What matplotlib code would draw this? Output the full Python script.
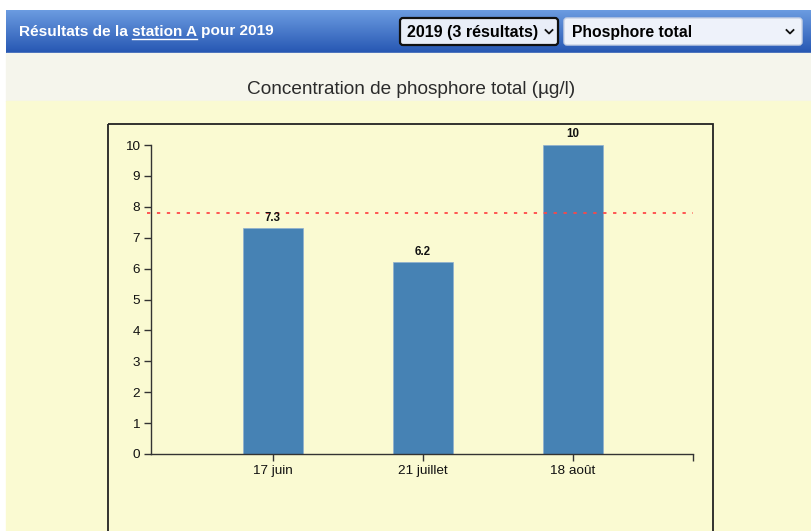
import numpy as np
import matplotlib
matplotlib.use("Agg")
import matplotlib.pyplot as plt
from matplotlib.patches import Rectangle, FancyBboxPatch

plt.rcParams['font.family'] = ['Liberation Sans', 'DejaVu Sans']

# data
dates = ['17 juin', '21 juillet', '18 août']
valeurs = [7.3, 6.2, 10]
seuil = 7.8
annee = 2019
station = 'station A'
parametre = 'Phosphore total'

W, H = 812, 531
fig = plt.figure(figsize=(W / 100, H / 100), dpi=100)
fig.patch.set_facecolor('white')

# page background drawn in pixel coordinates
page = fig.add_axes([0, 0, 1, 1])
page.set_xlim(0, W)
page.set_ylim(H, 0)
page.axis('off')

# header bar with vertical gradient
grad = np.linspace(0, 1, 64).reshape(-1, 1)
top = np.array([0.42, 0.61, 0.88])
bot = np.array([0.15, 0.34, 0.70])
img = top + (bot - top) * grad[..., None]
page.imshow(img, extent=(6, W, 53, 10), aspect='auto', zorder=1)

# title band + chart zone
page.add_patch(Rectangle((6, 53), W - 6, 48, color='#f5f5ec', zorder=1))
page.add_patch(Rectangle((6, 101), W - 6, H - 101, color='#fafad2', zorder=1))
page.add_patch(Rectangle((108, 124), 605, 420, fill=False, ec='#222222', lw=1.3, zorder=2))

# dropdowns
page.add_patch(FancyBboxPatch((400, 18), 158, 27, boxstyle='round,pad=0,rounding_size=3',
                              fc='#e9eef8', ec='#111111', lw=1.6, zorder=2))
page.add_patch(FancyBboxPatch((564, 18), 238, 27, boxstyle='round,pad=0,rounding_size=3',
                              fc='#eef2fa', ec='#c8d2e4', lw=1, zorder=2))
page.text(407, 32, f'{annee} ({len(valeurs)} résultats)', fontsize=11.5, fontweight='bold',
          va='center', color='black', zorder=3)
page.text(572, 32, parametre, fontsize=11.3, fontweight='bold', va='center', color='black', zorder=3)
for cx in (549, 790):
    page.plot([cx - 3.5, cx, cx + 3.5], [30, 33.5, 30], color='#111111', lw=1.3, zorder=3)

# header text with underlined station name
fig.canvas.draw()
r = fig.canvas.get_renderer()
fs = 11.1
t1 = page.text(19, 31.5, 'Résultats de la', fontsize=fs, fontweight='bold', color='white',
               va='center', zorder=3)
sp = 4
x = t1.get_window_extent(r).x1 + sp
t2 = page.text(x, 31.5, station, fontsize=fs, fontweight='bold', color='white', va='center', zorder=3)
bb = t2.get_window_extent(r)
page.plot([bb.x0, bb.x1], [38.5, 38.5], color='white', lw=1, zorder=3)
page.text(bb.x1 + sp, 31.5, f'pour {annee}', fontsize=fs, fontweight='bold', color='white',
          va='center', zorder=3)

page.text(411, 89, 'Concentration de phosphore total (µg/l)', fontsize=13.7, color='#2b2b2b',
          ha='center', va='center', zorder=3)

# chart
ax = fig.add_axes([151 / W, 1 - 454 / H, (693 - 151) / W, (454 - 145) / H])
ax.set_facecolor('none')
x = np.arange(len(dates))
bars = ax.bar(x, valeurs, width=0.4, color='#4682b4', edgecolor='#8fb0d0', linewidth=0.5, zorder=2)
ax.set_xlim(-0.813, 2.80)
ax.set_ylim(0, 10)
ax.plot([-0.84, 2.80], [seuil, seuil], color='#ff4545', lw=1.4, ls=(0, (1.7, 3.4)),
        alpha=0.9, zorder=3, clip_on=False)

for b, v in zip(bars, valeurs):
    ax.text(b.get_x() + b.get_width() / 2, v + 0.15, f'{v:g}', ha='center', va='bottom',
            fontsize=8.3, fontweight='bold', color='#111111')

ax.set_xticks(x)
ax.set_xticklabels(dates)
ax.set_xticks([ax.get_xlim()[1]], minor=True)
ax.set_yticks(range(0, 11))
ax.tick_params(axis='both', which='both', direction='out', length=5, width=1, colors='#333333',
               labelsize=9.7, labelcolor='#111111', pad=3)
for s in ('top', 'right'):
    ax.spines[s].set_visible(False)
for s in ('left', 'bottom'):
    ax.spines[s].set_color('#333333')
    ax.spines[s].set_linewidth(1)

fig.savefig('out.png', dpi=100, facecolor=fig.get_facecolor())
